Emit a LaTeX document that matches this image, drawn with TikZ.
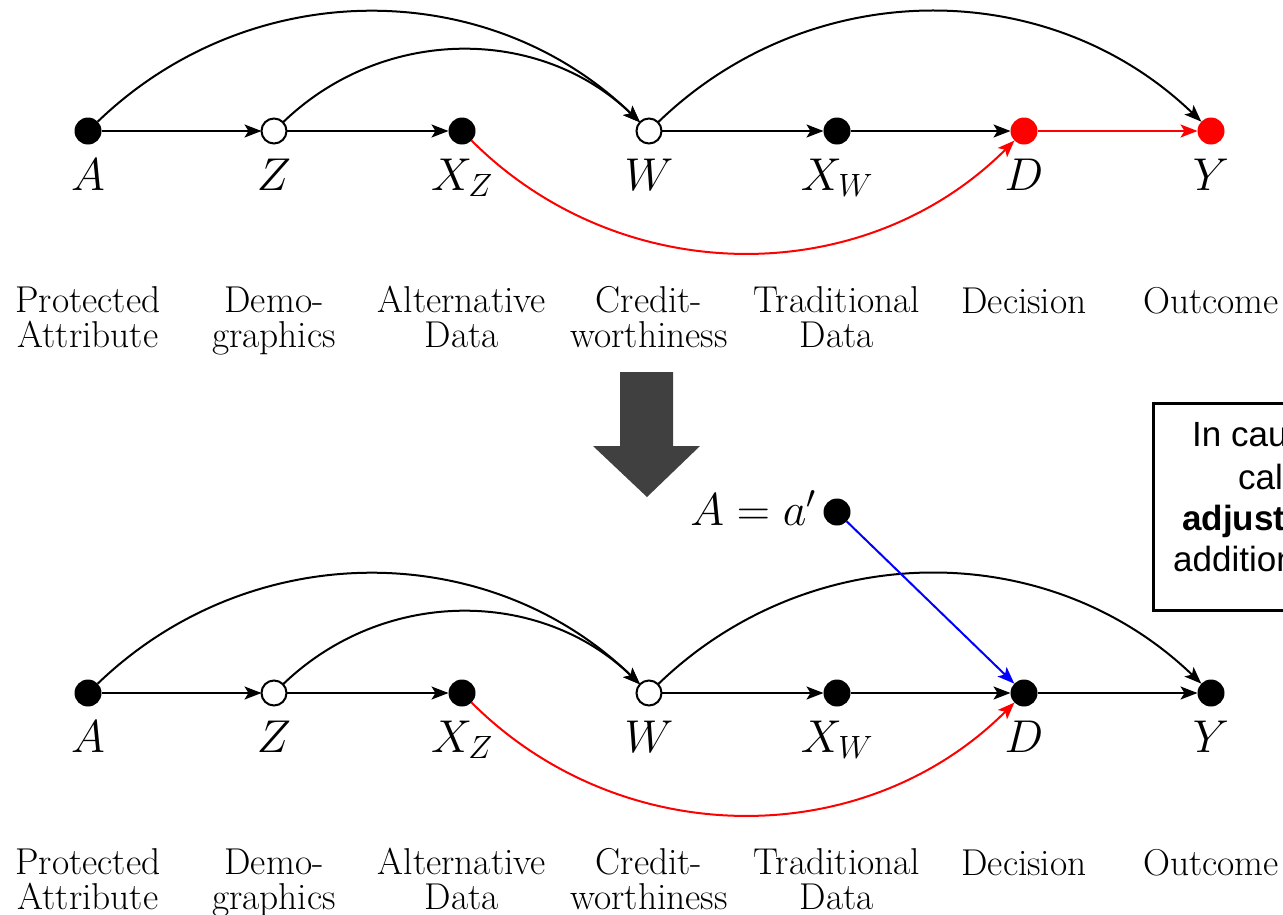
\RequirePackage{fix-cm}
\documentclass[tikz,border=0pt]{standalone}
\usepackage{fontspec}
\newfontfamily\boxfont{Liberation Sans}
\usetikzlibrary{arrows.meta}
\definecolor{blockgray}{HTML}{404040}
\begin{document}
\begin{tikzpicture}[x=1pt,y=-1pt,
  >={Stealth[length=17pt,width=13pt,inset=4pt]},
  edge/.style={->,line width=2pt},
  dotf/.style={circle,fill=black,minimum size=27pt,inner sep=0pt,outer sep=0pt},
  dotr/.style={circle,fill=red,minimum size=27pt,inner sep=0pt,outer sep=0pt},
  doto/.style={circle,draw=black,fill=white,line width=2pt,minimum size=25pt,inner sep=0pt,outer sep=0pt},
  mlab/.style={anchor=base,inner sep=0pt,font=\fontsize{46}{46}\selectfont},
  tlab/.style={anchor=base,inner sep=0pt,align=center,font=\fontsize{37.4}{34.5}\selectfont},
  boxt/.style={anchor=base west,inner sep=0pt,font=\boxfont\fontsize{35}{42}\selectfont}]
\clip (0,0) rectangle (1283,914);
\fill[white] (0,0) rectangle (1283,914);

% ---------- top diagram ----------
\node[dotf] (A1)  at (88,131)  {};
\node[doto] (Z1)  at (274,131) {};
\node[dotf] (XZ1) at (462,131) {};
\node[doto] (W1)  at (649,131) {};
\node[dotf] (XW1) at (837,131) {};
\node[dotr] (D1)  at (1024,131) {};
\node[dotr] (Y1)  at (1211,131) {};

\node[mlab] (lA1)  at (88,190)  {$A$};
\node[mlab] (lZ1)  at (274,190) {$Z$};
\node[mlab] (lXZ1) at (462,190) {$X_Z$};
\node[mlab] (lW1)  at (649,190) {$W$};
\node[mlab] (lXW1) at (837,190) {$X_W$};
\node[mlab] (lD1)  at (1024,190) {$D$};
\node[mlab] (lY1)  at (1211,190) {$Y$};

\node[tlab] (tA1)  at (88,347)  {Protected\\Attribute};
\node[tlab] (tZ1)  at (274,347) {Demo-\\graphics};
\node[tlab] (tXZ1) at (462,347) {Alternative\\Data};
\node[tlab] (tW1)  at (649,347) {Credit-\\worthiness};
\node[tlab] (tXW1) at (837,347) {Traditional\\Data};
\node[tlab] (tD1)  at (1024,313) {Decision};
\node[tlab] (tY1)  at (1211,313) {Outcome};

\draw[edge] (A1) -- (Z1);
\draw[edge] (Z1) -- (XZ1);
\draw[edge] (W1) -- (XW1);
\draw[edge] (XW1) -- (D1);
\draw[edge,red] (D1) -- (Y1);
\draw[edge] (A1) to[bend left=44] (W1);
\draw[edge] (Z1) to[bend left=44] (W1);
\draw[edge] (W1) to[bend left=44] (Y1);
\draw[edge,red] (XZ1) to[bend right=45] (D1);

% ---------- block arrow ----------
\fill[blockgray] (620,372) -- (673,372) -- (673,446) -- (700,446) -- (647,497) -- (593,446) -- (620,446) -- cycle;

% ---------- intervention node ----------
\node[dotf] (Aa) at (837,512) {};
\node[mlab,anchor=base east] (lAa) at (816,525) {$A=a'$};

% ---------- bottom diagram ----------
\node[dotf] (A2)  at (88,693)  {};
\node[doto] (Z2)  at (274,693) {};
\node[dotf] (XZ2) at (462,693) {};
\node[doto] (W2)  at (649,693) {};
\node[dotf] (XW2) at (837,693) {};
\node[dotf] (D2)  at (1024,693) {};
\node[dotf] (Y2)  at (1211,693) {};

\node[mlab] (lA2)  at (88,752)  {$A$};
\node[mlab] (lZ2)  at (274,752) {$Z$};
\node[mlab] (lXZ2) at (462,752) {$X_Z$};
\node[mlab] (lW2)  at (649,752) {$W$};
\node[mlab] (lXW2) at (837,752) {$X_W$};
\node[mlab] (lD2)  at (1024,752) {$D$};
\node[mlab] (lY2)  at (1211,752) {$Y$};

\node[tlab] (tA2)  at (88,909)  {Protected\\Attribute};
\node[tlab] (tZ2)  at (274,909) {Demo-\\graphics};
\node[tlab] (tXZ2) at (462,909) {Alternative\\Data};
\node[tlab] (tW2)  at (649,909) {Credit-\\worthiness};
\node[tlab] (tXW2) at (837,909) {Traditional\\Data};
\node[tlab] (tD2)  at (1024,875) {Decision};
\node[tlab] (tY2)  at (1211,875) {Outcome};

\draw[edge] (A2) -- (Z2);
\draw[edge] (Z2) -- (XZ2);
\draw[edge] (W2) -- (XW2);
\draw[edge] (XW2) -- (D2);
\draw[edge] (D2) -- (Y2);
\draw[edge] (A2) to[bend left=44] (W2);
\draw[edge] (Z2) to[bend left=44] (W2);
\draw[edge] (W2) to[bend left=44] (Y2);
\draw[edge,red] (XZ2) to[bend right=45] (D2);
\draw[edge,blue] (Aa) -- (D2);

% ---------- note box (cut by the picture edge) ----------
\draw[line width=3pt] (1400,403) -- (1153,403) -- (1153,610) -- (1400,610);
\node[boxt] (b1) at (1192,446) {In causal};
\node[boxt] (b2) at (1238,489) {called};
\node[boxt] (b3) at (1182,530) {\bfseries adjustment};
\node[boxt] (b4) at (1173,571) {additional};
\end{tikzpicture}
\end{document}
